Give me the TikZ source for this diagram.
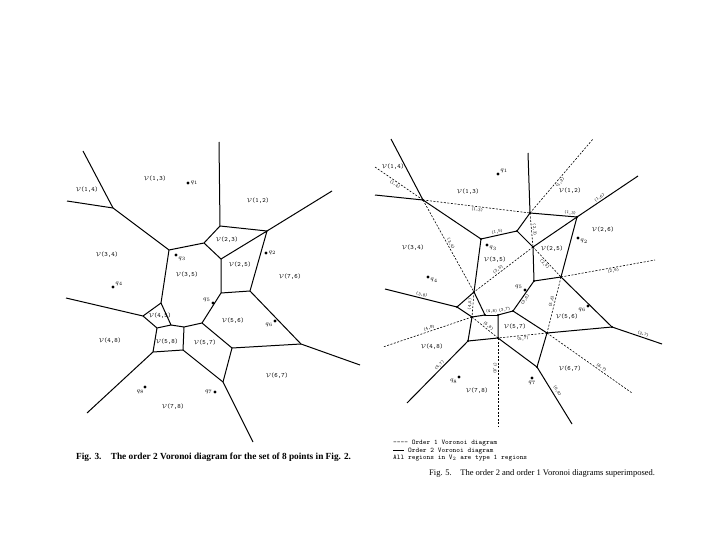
\documentclass[tikz,border=0pt]{standalone}
\usepackage{fontspec}
\setmainfont{Liberation Serif}
\usetikzlibrary{calc}

\newcommand{\vreg}[1]{$\mathcal{V}$(#1)}

\begin{document}
\begin{tikzpicture}[x=1pt, y=-1pt]
    \tikzset{
        order2/.style={line width=1pt},
        order1/.style={line width=0.6pt, dash pattern=on 2pt off 1.5pt},
        regionlabel/.style={font=\fontsize{6.5}{7}\selectfont\ttfamily, inner sep=0pt},
        pairlabel/.style={font=\fontsize{4.5}{5}\selectfont\ttfamily, inner sep=1pt, sloped},
        site/.style={circle, fill, inner sep=0pt, minimum size=3.4pt},
        vtx/.style={circle, fill, inner sep=0pt, minimum size=2.4pt},
        sitelabel/.style={font=\fontsize{6}{6}\selectfont, inner sep=0.5pt},
        legendline/.style={font=\fontsize{7}{7}\selectfont\ttfamily, anchor=west, inner sep=0pt},
        caption/.style={font=\fontsize{8.5}{10}\selectfont, anchor=west, inner sep=0pt}
    }
    \useasboundingbox (0,0) rectangle (720,540);

    % Fig. 3: order 2 diagram
    \coordinate (la)  at (113,208);
    \coordinate (la1) at (83,151);
    \coordinate (la2) at (67,201);
    \coordinate (lb)  at (169,250);
    \coordinate (lc)  at (204,243);
    \coordinate (ld)  at (220,226);
    \coordinate (ld1) at (219,142);
    \coordinate (le)  at (267,231);
    \coordinate (le1) at (332,191);
    \coordinate (lf)  at (221,259);
    \coordinate (lg)  at (161,303);
    \coordinate (ln)  at (143,316);
    \coordinate (ln1) at (66,298);
    \coordinate (lm)  at (157,328);
    \coordinate (ll)  at (171,325);
    \coordinate (lk)  at (184,327);
    \coordinate (lj)  at (202,323);
    \coordinate (lh)  at (221,293);
    \coordinate (li)  at (250,291);
    \coordinate (lp)  at (183,350);
    \coordinate (lq)  at (153,352);
    \coordinate (lq1) at (87,413);
    \coordinate (lr)  at (223,382);
    \coordinate (lr1) at (253,442);
    \coordinate (ls)  at (232,348);
    \coordinate (lt)  at (301,344);
    \coordinate (lt1) at (360,365);

    \draw[order2] (la1) -- (la) -- (lb) -- (lc) -- (ld) -- (ld1);
    \draw[order2] (la2) -- (la);
    \draw[order2] (ld) -- (le) -- (le1);
    \draw[order2] (lc) -- (lf) -- (le) -- (li) -- (lt) -- (lt1);
    \draw[order2] (lf) -- (lh) -- (li);
    \draw[order2] (lb) -- (lg) -- (ln) -- (ln1);
    \draw[order2] (ln) -- (lm) -- (ll) -- (lg);
    \draw[order2] (ll) -- (lk) -- (lj) -- (lh);
    \draw[order2] (lk) -- (lp) -- (lq) -- (lm);
    \draw[order2] (lq) -- (lq1);
    \draw[order2] (lp) -- (lr) -- (lr1);
    \draw[order2] (lj) -- (ls) -- (lr);
    \draw[order2] (ls) -- (lt);

    \node[site, label={[sitelabel]right:$q_1$}] (lq1s) at (188,183) {};
    \node[site, label={[sitelabel]right:$q_2$}] (lq2s) at (266,253) {};
    \node[site, label={[sitelabel]-30:$q_3$}] (lq3s) at (176,255) {};
    \node[site, label={[sitelabel]30:$q_4$}] (lq4s) at (113,287) {};
    \node[site, label={[sitelabel]160:$q_5$}] (lq5s) at (213,303) {};
    \node[site, label={[sitelabel]-150:$q_6$}] (lq6s) at (275,321) {};
    \node[site, label={[sitelabel]left:$q_7$}] (lq7s) at (215,392) {};
    \node[site, label={[sitelabel]-100:$q_8$}] (lq8s) at (145,387) {};

    \node[regionlabel] (l13) at (155,179) {\vreg{1,3}};
    \node[regionlabel] (l14) at (87,190) {\vreg{1,4}};
    \node[regionlabel] (l12) at (258,201) {\vreg{1,2}};
    \node[regionlabel] (l23) at (227,240) {\vreg{2,3}};
    \node[regionlabel] (l34) at (107,255) {\vreg{3,4}};
    \node[regionlabel] (l35) at (187,275) {\vreg{3,5}};
    \node[regionlabel] (l25) at (240,265) {\vreg{2,5}};
    \node[regionlabel] (l76) at (290,277) {\vreg{7,6}};
    \node[regionlabel] (l45) at (160,316) {\vreg{4,5}};
    \node[regionlabel] (l48) at (110,341) {\vreg{4,8}};
    \node[regionlabel] (l58) at (167,342) {\vreg{5,8}};
    \node[regionlabel] (l57) at (205,343) {\vreg{5,7}};
    \node[regionlabel] (l56) at (233,321) {\vreg{5,6}};
    \node[regionlabel] (l67) at (277,376) {\vreg{6,7}};
    \node[regionlabel] (l78) at (173,407) {\vreg{7,8}};

    \node[caption, font=\fontsize{9.3}{10}\selectfont\bfseries] (cap3) at (76,457) {Fig. 3.\quad The order 2 Voronoi diagram for the set of 8 points in Fig. 2.};

    % Fig. 5: order 2 and order 1 superimposed
    \coordinate (ra)  at (423,200);
    \coordinate (ra1) at (391,139);
    \coordinate (ra2) at (375,195);
    \coordinate (ra3) at (375,167);
    \coordinate (rb)  at (481,239);
    \coordinate (rc)  at (517,231);
    \coordinate (rd)  at (530,213);
    \coordinate (rd1) at (528,153);
    \coordinate (rd2) at (593,139);
    \coordinate (re)  at (577,217);
    \coordinate (re1) at (638,176);
    \coordinate (rf)  at (533,247);
    \coordinate (rg)  at (474,292);
    \coordinate (rh)  at (534,281);
    \coordinate (ri)  at (561,277);
    \coordinate (ri1) at (655,260);
    \coordinate (rj)  at (513,311);
    \coordinate (rn)  at (457,307);
    \coordinate (rn1) at (385,289);
    \coordinate (rm)  at (472,317);
    \coordinate (rm1) at (383,347);
    \coordinate (rl)  at (485,315);
    \coordinate (rk)  at (498,315);
    \coordinate (rp)  at (498,338);
    \coordinate (rp1) at (498,427);
    \coordinate (rq)  at (468,341);
    \coordinate (rq1) at (407,403);
    \coordinate (rr)  at (537,367);
    \coordinate (rr1) at (572,424);
    \coordinate (rs)  at (547,333);
    \coordinate (rs1) at (632,393);
    \coordinate (rt)  at (612,327);
    \coordinate (rt1) at (662,344);

    % order 1 (dashed)
    \draw[order1] (ra3) -- node[pairlabel, pos=.45, below] {(1,4)} (ra);
    \draw[order1] (ra) -- node[pairlabel, pos=.51, below] {(1,3)} (rd);
    \draw[order1] (ra) -- node[pairlabel, pos=.49, above] {(3,4)} (rg);
    \draw[order1] (rd) -- node[pairlabel, pos=.5, above] {(2,3)} (rf);
    \draw[order1] (rd) -- node[pairlabel, pos=.44, below] {(1,2)} (rd2);
    \draw[order1] (rf) -- node[pairlabel, pos=.56, above] {(3,5)} (rg);
    \draw[order1] (rf) -- node[pairlabel, pos=.5, below] {(2,5)} (ri);
    \draw[order1] (ri) -- node[pairlabel, pos=.55, below] {(2,6)} (ri1);
    \draw[order1] (ri) -- node[pairlabel, pos=.45, above] {(5,6)} (rs);
    \draw[order1] (rs) -- node[pairlabel, pos=.62, above] {(6,7)} (rs1);
    \draw[order1] (rs) -- node[pairlabel, pos=.5, below] {(5,7)} (rp);
    \draw[order1] (rp) -- node[pairlabel, pos=.34, below] {(7,8)} (rp1);
    \draw[order1] (rm) -- node[pairlabel, pos=.47, above] {(4,8)} (rm1);
    \draw[order1] (rm) -- node[pairlabel, pos=.55, above] {(5,8)} (rp);
    \draw[order1] (rg) -- node[pairlabel, pos=.5, above] {(4,5)} (rm);

    % order 2 (solid)
    \draw[order2] (ra1) -- (ra) -- (rb);
    \draw[order2] (ra2) -- (ra);
    \draw[order2] (rb) -- node[pairlabel, pos=.47, above] {(1,5)} (rc);
    \draw[order2] (rc) -- (rd) -- (rd1);
    \draw[order2] (rd) -- node[pairlabel, pos=.85, above] {(1,3)} (re);
    \draw[order2] (re) -- node[pairlabel, pos=.4, above] {(1,6)} (re1);
    \draw[order2] (rc) -- (rf) -- (re) -- (ri) -- (rt);
    \draw[order2] (rt) -- node[pairlabel, pos=.6, above] {(2,7)} (rt1);
    \draw[order2] (rf) -- (rh) -- (ri);
    \draw[order2] (rh) -- node[pairlabel, pos=.55, below] {(3,6)} (rj);
    \draw[order2] (rb) -- (rg) -- (rn);
    \draw[order2] (rn) -- node[pairlabel, pos=.5, above] {(3,8)} (rn1);
    \draw[order2] (rn) -- (rm) -- (rl) -- (rg);
    \draw[order2] (rl) -- node[pairlabel, pos=.5, above] {(4,8)} (rk);
    \draw[order2] (rk) -- node[pairlabel, pos=.5, above] {(3,7)} (rj);
    \draw[order2] (rk) -- (rp) -- (rq) -- (rm);
    \draw[order2] (rq) -- node[pairlabel, pos=.43, above] {(4,7)} (rq1);
    \draw[order2] (rp) -- (rr);
    \draw[order2] (rr) -- node[pairlabel, pos=.46, above=1.5pt] {(6,8)} (rr1);
    \draw[order2] (rj) -- (rs) -- (rr);
    \draw[order2] (rs) -- (rt);

    \foreach \v in {ra,rb,rc,rd,re,rf,rg,rh,ri,rj,rk,rl,rm,rn,rp,rq,rr,rs,rt}
        \node[vtx] at (\v) {};

    \node[site, label={[sitelabel]30:$q_1$}] (rq1s) at (498,174) {};
    \node[site, label={[sitelabel]-20:$q_2$}] (rq2s) at (578,238) {};
    \node[site, label={[sitelabel]-20:$q_3$}] (rq3s) at (487,245) {};
    \node[site, label={[sitelabel]-20:$q_4$}] (rq4s) at (428,277) {};
    \node[site, label={[sitelabel]170:$q_5$}] (rq5s) at (525,290) {};
    \node[site, label={[sitelabel]-150:$q_6$}] (rq6s) at (588,306) {};
    \node[site, label={[sitelabel]-90:$q_7$}] (rq7s) at (532,378) {};
    \node[site, label={[sitelabel]-120:$q_8$}] (rq8s) at (459,377) {};

    \node[regionlabel] (r14) at (393,167) {\vreg{1,4}};
    \node[regionlabel] (r13) at (468,192) {\vreg{1,3}};
    \node[regionlabel] (r12) at (570,191) {\vreg{1,2}};
    \node[regionlabel] (r26) at (603,230) {\vreg{2,6}};
    \node[regionlabel] (r34) at (413,248) {\vreg{3,4}};
    \node[regionlabel] (r35) at (495,260) {\vreg{3,5}};
    \node[regionlabel] (r25) at (552,249) {\vreg{2,5}};
    \node[regionlabel] (r56) at (567,317) {\vreg{5,6}};
    \node[regionlabel] (r57) at (515,327) {\vreg{5,7}};
    \node[regionlabel] (r48) at (432,347) {\vreg{4,8}};
    \node[regionlabel] (r78) at (477,391) {\vreg{7,8}};
    \node[regionlabel] (r67) at (570,369) {\vreg{6,7}};

    \node[legendline] (leg1) at (393,443) {---- Order 1 Voronoi diagram};
    \node[legendline] (leg2) at (393,451) {\rule[0.5ex]{1.6em}{0.6pt} Order 2 Voronoi diagram};
    \node[legendline] (leg3) at (393,458) {All regions in V$_2$ are type 1 regions};

    \node[caption] (cap5) at (429,473) {Fig. 5.\quad The order 2 and order 1 Voronoi diagrams superimposed.};
\end{tikzpicture}
\end{document}
